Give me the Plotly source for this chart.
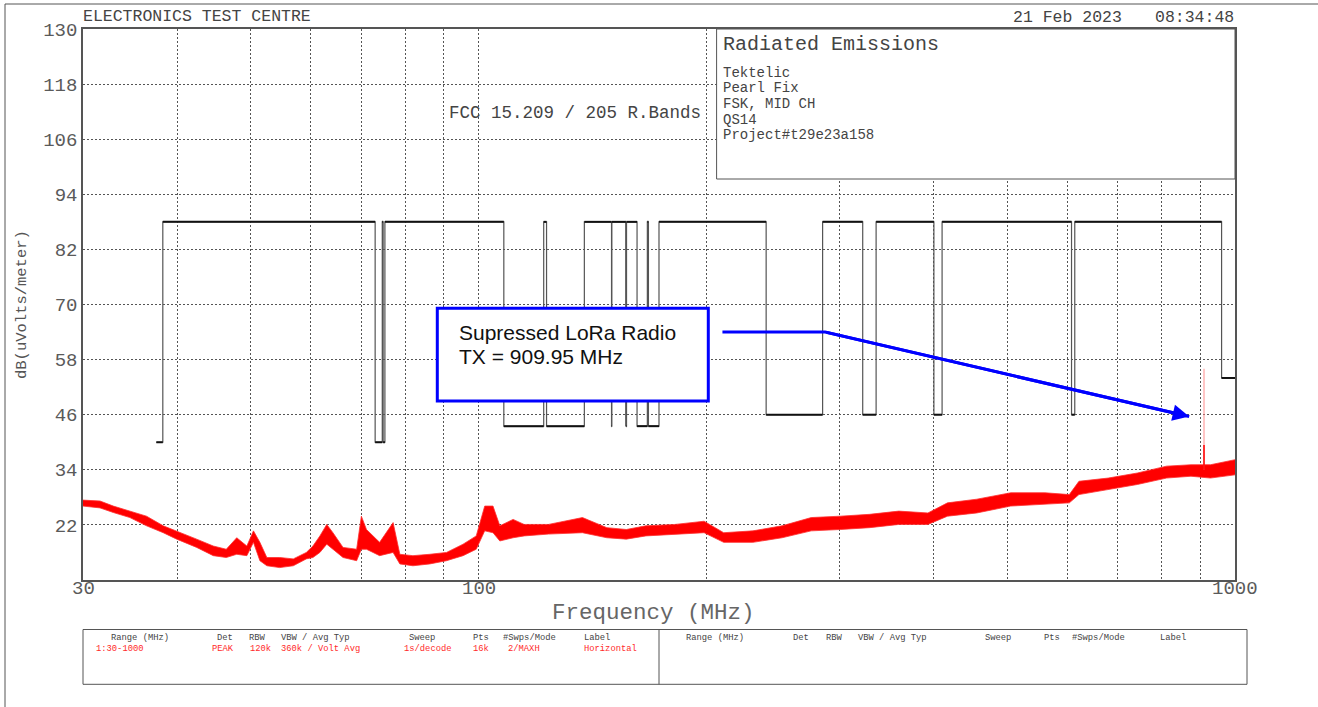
import math
import plotly.graph_objects as go

# ---------------- measured sweep (peak, max-hold), envelope of the trace ----------------
SWEEP_FREQ = [30.0, 31.6, 32.9, 34.6, 36.4, 38.3, 39.9, 42.4, 44.6, 46.4, 47.9, 49.4,
              50.4, 51.4, 52.5, 54.6, 56.9, 59.2, 60.4, 61.7, 63.0, 64.2, 66.2, 69.0,
              70.0, 71.1, 74.0, 77.1, 78.7, 81.9, 86.2, 90.7, 95.4, 99.3, 101.9, 104.5,
              106.7, 111.1, 114.9, 123.7, 137.2, 147.8, 156.8, 166.4, 181.8, 198.7,
              210.9, 230.5, 251.9, 275.3, 300.9, 328.8, 359.4, 392.7, 416.8, 455.7,
              505.3, 560.7, 603.9, 621.9, 679.9, 742.9, 812.0, 874.6, 927.9, 1000.0]
SWEEP_LOW = [26.1, 25.7, 24.7, 23.6, 21.8, 20.3, 18.9, 17.1, 15.3, 14.9, 15.6, 15.3,
             18.2, 14.2, 13.1, 12.7, 13.1, 14.6, 14.9, 16.0, 17.8, 16.7, 14.9, 14.2,
             16.7, 16.7, 15.3, 16.0, 13.5, 13.1, 13.5, 14.2, 15.3, 16.7, 20.7, 20.3,
             18.5, 19.2, 19.6, 20.0, 20.3, 19.2, 18.9, 19.6, 20.0, 20.3,
             18.2, 18.2, 19.2, 20.7, 21.0, 21.4, 22.1, 22.1, 23.9, 24.6,
             26.1, 26.5, 26.8, 28.6, 29.7, 30.8, 32.2, 32.6, 32.2, 32.9]
SWEEP_HIGH = [27.4, 27.2, 26.1, 25.0, 23.9, 21.8, 20.7, 18.9, 17.4, 16.7, 19.2, 17.4,
              20.7, 18.2, 14.9, 14.9, 14.6, 16.0, 17.4, 19.6, 22.1, 20.3, 17.1, 16.7,
              23.9, 21.0, 18.2, 22.5, 15.6, 15.3, 15.6, 16.0, 17.8, 19.6, 26.1, 26.1,
              21.8, 23.2, 22.1, 22.1, 23.6, 21.4, 21.0, 21.8, 22.1, 22.8,
              20.3, 20.7, 21.8, 23.6, 23.9, 24.3, 25.0, 24.6, 26.8, 27.6,
              29.0, 29.0, 28.6, 31.5, 32.2, 33.3, 34.8, 35.1, 35.1, 36.2]

# LoRa transmitter line
TX_FREQ = 909.95          # MHz
TX_BASE = 34.0            # dBuV/m, top of the noise floor at the carrier
TX_PEAK = 39.4            # dBuV/m, this sweep
TX_MAXHOLD = 56.0         # dBuV/m, max-hold residue

# FCC 15.205 restricted bands inside the sweep (MHz)
RESTRICTED_BANDS = [(37.5, 38.25), (73.0, 74.6), (74.8, 75.2), (108.0, 121.94),
                    (123.0, 138.0), (149.9, 150.05), (156.52475, 156.52525),
                    (156.7, 156.9), (162.0125, 167.17), (167.72, 173.2),
                    (240.0, 285.0), (322.0, 335.4), (399.9, 410.0), (608.0, 614.0),
                    (960.0, 1240.0)]
# FCC 15.209 limits: upper band edge (MHz) -> level (dBuV/m)
LIMIT_EDGES = [88.0, 216.0, 960.0]
LIMIT_LEVELS = [40.0, 43.5, 46.0, 54.0]
OPEN_BAND_LEVEL = 88.0
SWEEP_START, SWEEP_STOP = 30.0, 1000.0

# axis ticks
Y_TICKS = [22, 34, 46, 58, 70, 82, 94, 106, 118, 130]
X_GRID = [30, 40, 50, 60, 70, 80, 90, 100, 200, 300, 400, 500, 600, 700, 800, 900, 1000]
X_LABELS = {30: "30", 100: "100", 1000: "1000"}

# callout (MHz, dBuV/m)
CALLOUT_START = (210.1, 64.0)
CALLOUT_KNEE = (287.2, 64.0)
CALLOUT_TIP = (869.8, 45.6)

# ---------------- page geometry ----------------
W, H = 1318, 707
ML, MR, MT, MB = 83, 83, 29, 127
PW = W - ML - MR
PH = H - MT - MB
MONO = "Liberation Mono"
SANS = "Liberation Sans"
INK = "#444444"
FRAME = "#555555"


def px(x):
    return (x - ML) / PW


def py(y):
    return (H - MB - y) / PH


def limit_at(f):
    for edge, level in zip(LIMIT_EDGES, LIMIT_LEVELS):
        if f < edge:
            return level
    return LIMIT_LEVELS[-1]


# restricted-band limit line as a step trace
lim_x, lim_y = [], []
for lo, hi in RESTRICTED_BANDS:
    lim_x.append(lo)
    lim_y.append(limit_at(lo))
    if hi >= SWEEP_STOP:
        lim_x.append(SWEEP_STOP)
        lim_y.append(limit_at(lo))
    else:
        lim_x.append(hi)
        lim_y.append(OPEN_BAND_LEVEL)

# horizontal runs of the same step line, drawn heavier
run_x, run_y = [], []
for i in range(len(lim_x) - 1):
    run_x += [lim_x[i], lim_x[i + 1], None]
    run_y += [lim_y[i], lim_y[i], None]

fig = go.Figure()

fig.add_trace(go.Scatter(x=lim_x, y=lim_y, mode="lines", line_shape="hv",
                         line=dict(color="#555555", width=1.2), hoverinfo="skip"))
fig.add_trace(go.Scatter(x=run_x, y=run_y, mode="lines",
                         line=dict(color="#111111", width=2), hoverinfo="skip"))

fig.add_trace(go.Scatter(x=SWEEP_FREQ, y=SWEEP_LOW, mode="lines",
                         line=dict(color="#ff3030", width=0.8), hoverinfo="skip"))
fig.add_trace(go.Scatter(x=SWEEP_FREQ, y=SWEEP_HIGH, mode="lines", fill="tonexty",
                         fillcolor="#ff0000",
                         line=dict(color="#ff3030", width=0.8), hoverinfo="skip"))

fig.add_trace(go.Scatter(x=[TX_FREQ, TX_FREQ], y=[TX_BASE, TX_MAXHOLD], mode="lines",
                         line=dict(color="#ff8c8c", width=1), hoverinfo="skip"))
fig.add_trace(go.Scatter(x=[TX_FREQ, TX_FREQ], y=[TX_BASE, TX_PEAK], mode="lines",
                         line=dict(color="#ff0000", width=1.5), hoverinfo="skip"))

# callout leader
fig.add_trace(go.Scatter(x=[CALLOUT_START[0], CALLOUT_KNEE[0], CALLOUT_TIP[0]],
                         y=[CALLOUT_START[1], CALLOUT_KNEE[1], CALLOUT_TIP[1]],
                         mode="lines", line=dict(color="#0000ff", width=3),
                         hoverinfo="skip"))
fig.add_annotation(x=math.log10(CALLOUT_TIP[0]), y=CALLOUT_TIP[1],
                   ax=math.log10(CALLOUT_KNEE[0]), ay=CALLOUT_KNEE[1],
                   xref="x", yref="y", axref="x", ayref="y", text="",
                   showarrow=True, arrowhead=2, arrowsize=1.1, arrowwidth=3,
                   arrowcolor="#0000ff", standoff=0)

grid = dict(showgrid=True, gridcolor="#555555", gridwidth=1, griddash="2px,2px",
            showline=True, mirror=True, linecolor=FRAME, linewidth=1.5,
            zeroline=False, ticks="")

fig.update_xaxes(type="log", range=[math.log10(SWEEP_START), math.log10(SWEEP_STOP)],
                 tickvals=X_GRID, showticklabels=False, **grid)
fig.update_yaxes(range=[10, 130], tickvals=Y_TICKS, ticktext=[str(v) for v in Y_TICKS],
                 tickfont=dict(family=MONO, size=19, color="#5a5a5a"), **grid)

# frequency labels sit tight under the axis
for f, text in X_LABELS.items():
    fig.add_annotation(x=math.log10(f), y=py(589), xref="x", yref="paper", text=text,
                       showarrow=False, xanchor="center", yanchor="middle",
                       font=dict(family=MONO, size=19, color="#5a5a5a"))


def label(text, x, y, size, color=INK, family=MONO, xanchor="left", **kw):
    fig.add_annotation(text=text, x=px(x), y=py(y), xref="paper", yref="paper",
                       xanchor=xanchor, yanchor="middle", showarrow=False,
                       font=dict(family=family, size=size, color=color), **kw)


def box(x0, y0, x1, y1, color=FRAME, width=1, fill="white"):
    fig.add_shape(type="rect", xref="paper", yref="paper",
                  x0=px(x0), x1=px(x1), y0=py(y1), y1=py(y0),
                  line=dict(color=color, width=width), fillcolor=fill, layer="above")


def rule(x0, y0, x1, y1, color=FRAME, width=1):
    fig.add_shape(type="line", xref="paper", yref="paper",
                  x0=px(x0), x1=px(x1), y0=py(y0), y1=py(y1),
                  line=dict(color=color, width=width), layer="above")


# page frame
rule(5, 4, W, 4)
rule(5, 4, 5, H)

# headers
label("ELECTRONICS TEST CENTRE", 81, 16.7, 16.5)
label("21 Feb 2023", 1011, 17, 16.5)
label("08:34:48", 1236, 17, 16.5, xanchor="right")

# test description box
box(716.6, 29, 1235, 179)
label("Radiated Emissions", 721, 44.7, 20)
for i, line in enumerate(["Tektelic", "Pearl Fix", "FSK, MID CH", "QS14",
                          "Project#t29e23a158"]):
    label(line, 721, 73 + i * 15.5, 14)

label("FCC 15.209 / 205 R.Bands", 447, 113, 17.5)

# callout box
box(437.3, 308.3, 708.3, 401, color="#0000ff", width=3)
label("Supressed LoRa Radio", 457, 332.2, 21, color="#111111", family=SANS)
label("TX = 909.95 MHz", 457, 356.2, 21, color="#111111", family=SANS)

# axis titles
label("Frequency (MHz)", 653, 612.8, 22.5, color="#666666", xanchor="center")
label("dB(uVolts/meter)", 22, 305, 15.5, color="#555555", xanchor="center",
      textangle=-90)

# settings table
box(83, 629.5, 1247, 684.3, fill="rgba(0,0,0,0)")
rule(659, 629.5, 659, 684.3)
HEAD = [("Range (MHz)", 109), ("Det", 214.5), ("RBW", 247), ("VBW / Avg Typ", 278.5),
        ("Sweep", 406.5), ("Pts", 470.5), ("#Swps/Mode", 500.5), ("Label", 581.5)]
HEAD_R = [("Range (MHz)", 684), ("Det", 791), ("RBW", 823.5), ("VBW / Avg Typ", 856),
          ("Sweep", 983), ("Pts", 1042), ("#Swps/Mode", 1069.5), ("Label", 1157.5)]
ROW = [("1:30-1000", 94), ("PEAK", 209.5), ("120k", 247.5), ("360k / Volt Avg", 278.5),
       ("1s/decode", 401.5), ("16k", 470.5), ("2/MAXH", 506), ("Horizontal", 581.5)]
for text, x in HEAD + HEAD_R:
    label(text, x, 638, 8.8)
for text, x in ROW:
    label(text, x, 649, 8.8, color="#ff2a2a")

fig.update_layout(width=W, height=H, margin=dict(l=ML, r=MR, t=MT, b=MB),
                  paper_bgcolor="white", plot_bgcolor="white", showlegend=False)

fig.write_html("out.html")
